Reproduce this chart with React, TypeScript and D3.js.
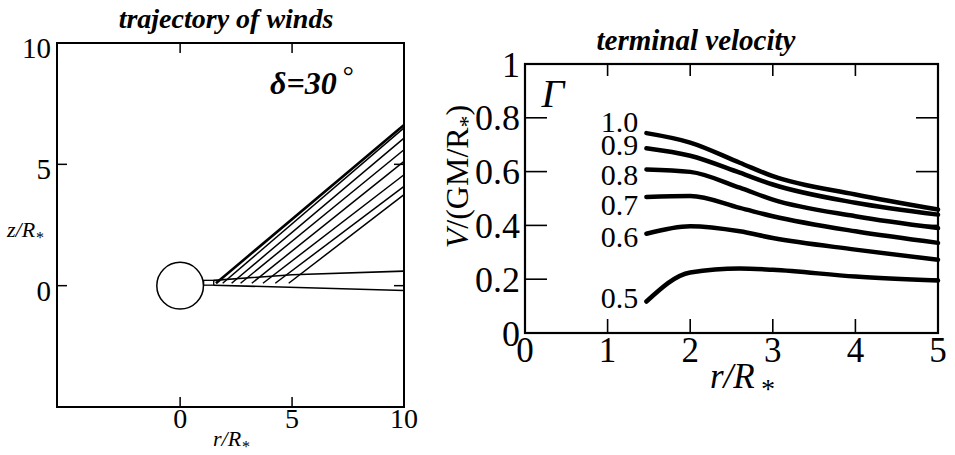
import React from 'react'
import * as d3 from 'd3'

const width = 955
const height = 455
const font = '"Liberation Serif", "Times New Roman", serif'

// left panel: wind trajectories (r, z in units of R*)
const trajStartR = [1.6, 1.9, 2.3, 2.7, 3.2, 3.7, 4.25, 4.85]
const trajStartZ = [0.1, 0.1, 0.1, 0.1, 0.1, 0.1, 0.1, 0.1]
const trajEndR = [10, 10, 10, 10, 10, 10, 10, 10]
const trajEndZ = [6.62, 6.5, 6.08, 5.6, 5.12, 4.57, 4.09, 3.75]
const wedgeTopR = [1.5, 5, 10]
const wedgeTopZ = [0.22, 0.45, 0.6]
const wedgeBotR = [1.5, 10]
const wedgeBotZ = [0.02, -0.2]
const diskR = [1.05, 1.5]
const diskZ = [0.02, 0.22]
const leftTicks = [0, 5]
const leftTickLabels = ['0', '5', '10']

// right panel: terminal velocity vs r for each Gamma
const gammaLabels = ['1.0', '0.9', '0.8', '0.7', '0.6', '0.5']
const radii = [1.47, 2.0, 2.6, 3.0, 4.0, 5.0]
const v10 = [0.743, 0.708, 0.633, 0.583, 0.515, 0.459]
const v09 = [0.687, 0.659, 0.596, 0.552, 0.484, 0.44]
const v08 = [0.608, 0.599, 0.54, 0.496, 0.434, 0.39]
const v07 = [0.506, 0.509, 0.465, 0.434, 0.378, 0.335]
const v06 = [0.369, 0.397, 0.378, 0.353, 0.31, 0.272]
const v05 = [0.117, 0.225, 0.24, 0.235, 0.21, 0.195]
const labelV = [0.787, 0.701, 0.59, 0.478, 0.358, 0.131]
const rightXTicks = [0, 1, 2, 3, 4, 5]
const rightYTicks = [0, 0.2, 0.4, 0.6, 0.8, 1]
const rightYTickLabels = ['0', '0.2', '0.4', '0.6', '0.8', '1']

const series = [v10, v09, v08, v07, v06, v05]

function LeftPanel() {
    const x = d3.scaleLinear().domain([-5.5, 10]).range([57, 404])
    const y = d3.scaleLinear().domain([-5, 10]).range([407, 43])
    const line = d3
        .line<[number, number]>()
        .x((d) => x(d[0]))
        .y((d) => y(d[1]))
    const [x0, x1] = x.range()
    const [y0, y1] = y.range()
    const tk = 10
    const starR = (x(1) - x(0) + y(0) - y(1)) / 2

    return (
        <g>
            <text
                x={226}
                y={28}
                textAnchor="middle"
                fontFamily={font}
                fontStyle="italic"
                fontWeight="bold"
                fontSize={28}
            >
                trajectory of winds
            </text>
            <rect
                x={x0}
                y={y1}
                width={x1 - x0}
                height={y0 - y1}
                fill="none"
                stroke="#000"
                strokeWidth={2}
            />
            {leftTicks.map((t) => (
                <g key={t} stroke="#000" strokeWidth={1.5}>
                    <line x1={x(t)} x2={x(t)} y1={y0} y2={y0 - tk} />
                    <line x1={x(t)} x2={x(t)} y1={y1} y2={y1 + tk} />
                    <line x1={x0} x2={x0 + tk} y1={y(t)} y2={y(t)} />
                    <line x1={x1} x2={x1 - tk} y1={y(t)} y2={y(t)} />
                </g>
            ))}
            {[0, 5, 10].map((t, i) => (
                <text
                    key={'y' + t}
                    x={x0 - 6}
                    y={y(t) + 5}
                    dy="0.35em"
                    textAnchor="end"
                    fontFamily={font}
                    fontSize={29}
                >
                    {leftTickLabels[i]}
                </text>
            ))}
            {[0, 5, 10].map((t, i) => (
                <text
                    key={'x' + t}
                    x={x(t)}
                    y={y0 + 21}
                    textAnchor="middle"
                    fontFamily={font}
                    fontSize={28}
                >
                    {leftTickLabels[i]}
                </text>
            ))}
            <text x={7} y={237} fontFamily={font} fontStyle="italic" fontSize={22}>
                z/R
                <tspan dy={6} fontSize={16}>
                    *
                </tspan>
            </text>
            <text x={213} y={446} fontFamily={font} fontStyle="italic" fontSize={22}>
                r/R
                <tspan dy={6} fontSize={16}>
                    *
                </tspan>
            </text>
            <text
                x={270}
                y={94}
                fontFamily={font}
                fontStyle="italic"
                fontWeight="bold"
                fontSize={32}
            >
                δ=30
                <tspan dx={5} dy={-9} fontSize={28} fontWeight="normal">
                    °
                </tspan>
            </text>

            <ellipse
                cx={x(0)}
                cy={y(0)}
                rx={starR}
                ry={starR}
                fill="none"
                stroke="#000"
                strokeWidth={1.5}
            />
            <rect
                x={x(diskR[0])}
                y={y(diskZ[1])}
                width={x(diskR[1]) - x(diskR[0])}
                height={y(diskZ[0]) - y(diskZ[1])}
                fill="none"
                stroke="#000"
                strokeWidth={1.3}
            />
            <path
                d={line(wedgeTopR.map((r, i) => [r, wedgeTopZ[i]]))}
                fill="none"
                stroke="#000"
                strokeWidth={1.6}
            />
            <path
                d={line(wedgeBotR.map((r, i) => [r, wedgeBotZ[i]]))}
                fill="none"
                stroke="#000"
                strokeWidth={1.6}
            />
            {trajStartR.map((r, i) => (
                <path
                    key={i}
                    d={line([
                        [r, trajStartZ[i]],
                        [trajEndR[i], trajEndZ[i]],
                    ])}
                    fill="none"
                    stroke="#000"
                    strokeWidth={i === 0 ? 2.6 : 1.5}
                />
            ))}
        </g>
    )
}

function RightPanel() {
    const x = d3.scaleLinear().domain([0, 5]).range([525, 938])
    const y = d3.scaleLinear().domain([0, 1]).range([333, 64])
    const line = d3
        .line<number>()
        .x((d, i) => x(radii[i]))
        .y((d) => y(d))
        .curve(d3.curveMonotoneX)
    const [x0, x1] = x.range()
    const [y0, y1] = y.range()

    return (
        <g>
            <text
                x={696}
                y={50}
                textAnchor="middle"
                fontFamily={font}
                fontStyle="italic"
                fontWeight="bold"
                fontSize={29}
            >
                terminal velocity
            </text>
            <rect
                x={x0}
                y={y1}
                width={x1 - x0}
                height={y0 - y1}
                fill="none"
                stroke="#000"
                strokeWidth={2.2}
            />
            {rightXTicks.slice(1, -1).map((t) => (
                <g key={'xt' + t} stroke="#000" strokeWidth={1.6}>
                    <line x1={x(t)} x2={x(t)} y1={y0} y2={y0 - 14} />
                    <line x1={x(t)} x2={x(t)} y1={y1} y2={y1 + 12} />
                </g>
            ))}
            {rightYTicks.slice(1, -1).map((t) => (
                <g key={'yt' + t} stroke="#000" strokeWidth={1.6}>
                    <line x1={x0} x2={x0 + 22} y1={y(t)} y2={y(t)} />
                    <line x1={x1} x2={x1 - 22} y1={y(t)} y2={y(t)} />
                </g>
            ))}
            {rightYTicks.map((t, i) => (
                <text
                    key={'yl' + t}
                    x={x0 - 5}
                    y={y(t)}
                    dy="0.35em"
                    textAnchor="end"
                    fontFamily={font}
                    fontSize={36}
                >
                    {rightYTickLabels[i]}
                </text>
            ))}
            {rightXTicks.map((t) => (
                <text
                    key={'xl' + t}
                    x={x(t)}
                    y={y0 + 29}
                    textAnchor="middle"
                    fontFamily={font}
                    fontSize={35}
                >
                    {t}
                </text>
            ))}
            <text
                transform={`translate(468, ${(y(0.8) + y(0.2)) / 2 - 22}) rotate(-90)`}
                textAnchor="middle"
                fontFamily={font}
                fontSize={32}
            >
                <tspan fontStyle="italic">V</tspan>/(GM/R
                <tspan dy={7} fontSize={24}>
                    *
                </tspan>
                <tspan dy={-7}>)</tspan>
            </text>
            <text x={710} y={388} fontFamily={font} fontStyle="italic" fontSize={35}>
                r/R
                <tspan dx={5} dy={10} fontSize={28}>
                    *
                </tspan>
            </text>
            <text
                x={x(0.2)}
                y={y(0.84)}
                fontFamily={font}
                fontStyle="italic"
                fontSize={40}
            >
                Γ
            </text>
            {series.map((s, i) => (
                <path
                    key={gammaLabels[i]}
                    d={line(s)}
                    fill="none"
                    stroke="#000"
                    strokeWidth={4.5}
                    strokeLinecap="round"
                />
            ))}
            {gammaLabels.map((g, i) => (
                <text
                    key={'gl' + g}
                    x={x(1.37)}
                    y={y(labelV[i])}
                    dy="0.35em"
                    textAnchor="end"
                    fontFamily={font}
                    fontSize={30}
                >
                    {g}
                </text>
            ))}
        </g>
    )
}

export default function App() {
    return (
        <svg
            width={width}
            height={height}
            style={{ position: 'absolute', left: 0, top: 0, background: '#fff' }}
        >
            <LeftPanel />
            <RightPanel />
        </svg>
    )
}
